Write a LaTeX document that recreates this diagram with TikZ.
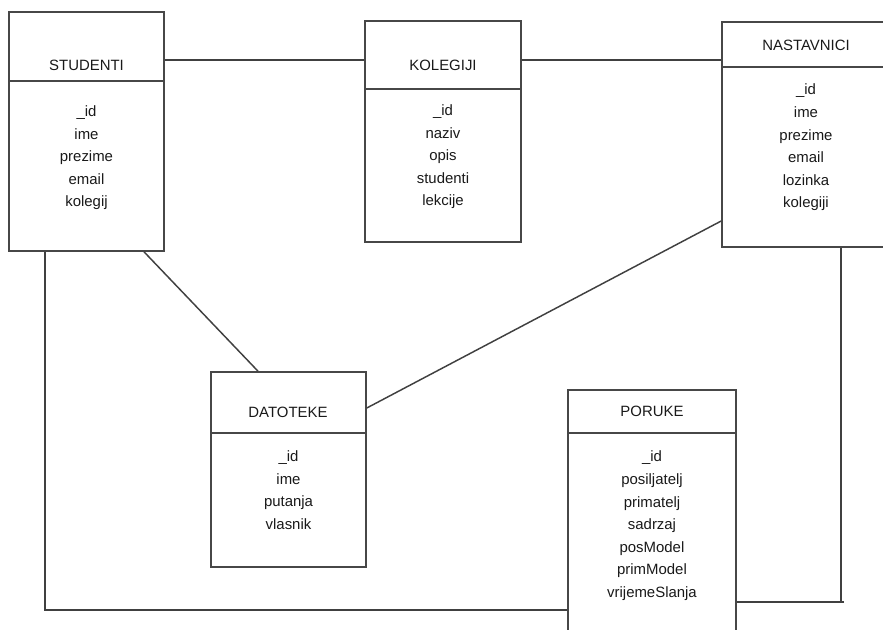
\documentclass[tikz,border=0pt]{standalone}
\usepackage{fontspec}
\setmainfont{Liberation Sans}
\usetikzlibrary{fit}
\begin{document}
\begin{tikzpicture}[x=0.75pt,y=-0.75pt,
  tbl/.style={draw=black!72, line width=1.2pt, inner sep=0pt, fill=none},
  divider/.style={draw=black!72, line width=1.2pt},
  conn/.style={draw=black!75, line width=1.1pt},
  lbl/.style={anchor=base, inner sep=0pt, font=\fontsize{11.2pt}{13pt}\selectfont, text=black!90}]
\clip (0,0) rectangle (883,630);
\useasboundingbox (0,0) rectangle (883,630);

% tables
\node[tbl, fit={(9,12) (164,251)}] (stu) {};
\node[tbl, fit={(365,21) (521,242)}] (kol) {};
\node[tbl, fit={(722,22) (895,247)}] (nas) {};
\node[tbl, fit={(211,372) (366,567)}] (dat) {};
\node[tbl, fit={(568,390) (736,645)}] (por) {};

% dividers
\draw[divider] (stu.west |- 0,81) -- (stu.east |- 0,81);
\draw[divider] (kol.west |- 0,89) -- (kol.east |- 0,89);
\draw[divider] (nas.west |- 0,67) -- (nas.east |- 0,67);
\draw[divider] (dat.west |- 0,433) -- (dat.east |- 0,433);
\draw[divider] (por.west |- 0,433) -- (por.east |- 0,433);

% titles
\node[lbl] (stu-t) at (86.5,71) {STUDENTI};
\node[lbl] (kol-t) at (443,71) {KOLEGIJI};
\node[lbl] (nas-t) at (806,51) {NASTAVNICI};
\node[lbl] (dat-t) at (288,418) {DATOTEKE};
\node[lbl] (por-t) at (652,417) {PORUKE};

% fields
\foreach \t [count=\i] in {\_id,ime,prezime,email,kolegij}
  \node[lbl] (stu-\i) at (86.5,{117+22.5*(\i-1)}) {\t};
\foreach \t [count=\i] in {\_id,naziv,opis,studenti,lekcije}
  \node[lbl] (kol-\i) at (443,{116+22.4*(\i-1)}) {\t};
\foreach \t [count=\i] in {\_id,ime,prezime,email,lozinka,kolegiji}
  \node[lbl] (nas-\i) at (806,{95+22.6*(\i-1)}) {\t};
\foreach \t [count=\i] in {\_id,ime,putanja,vlasnik}
  \node[lbl] (dat-\i) at (288.5,{462+22.5*(\i-1)}) {\t};
\foreach \t [count=\i] in {\_id,posiljatelj,primatelj,sadrzaj,posModel,primModel,vrijemeSlanja}
  \node[lbl] (por-\i) at (652,{462+22.6*(\i-1)}) {\t};

% connectors
\draw[conn] (stu.east |- 0,60) -- (kol.west |- 0,60);
\draw[conn] (kol.east |- 0,60) -- (nas.west |- 0,60);
\draw[conn] (stu.south -| 144,0) -- (dat.north -| 258,0);
\draw[conn] (nas.west |- 0,221) -- (dat.east |- 0,408);
\draw[conn] (stu.south -| 45,0) |- (por.west |- 0,610);
\coordinate (nasend) at (844,602);
\draw[conn] (nas.south -| 841,0) -- (841,602);
\draw[conn] (nasend) -- (por.east |- nasend);
\end{tikzpicture}
\end{document}
